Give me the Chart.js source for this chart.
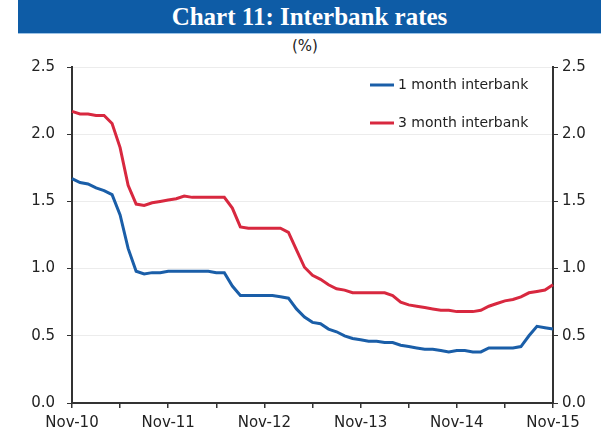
<!DOCTYPE html>
<html lang="en">
<head>
    <meta charset="UTF-8">
    <title>Chart 11: Interbank rates</title>
    <script src="https://cdn.jsdelivr.net/npm/chart.js"></script>
    <style>
        body { margin: 0; background: #fff; }
        #wrap { position: relative; width: 601px; height: 448px; }
        #band { position: absolute; left: 18px; top: 0; width: 583px; height: 33px; background: #0e5ca6;
                border-bottom: 1px solid #9cc3e6; color: #fff; font: bold 25px "Liberation Serif", "DejaVu Serif", serif;
                text-align: center; line-height: 33px; }
        #unit { position: absolute; left: 0; top: 37px; width: 610px; text-align: center;
                font: 15px "DejaVu Sans", sans-serif; color: #222; }
        canvas { position: absolute; left: 0; top: 0; }
    </style>
</head>
<body>
<div id="wrap">
    <div id="band">Chart 11: Interbank rates</div>
    <div id="unit">(%)</div>
    <canvas id="rates" width="601" height="448"></canvas>
</div>
<script>
    // tick labels shown on the x axis (one each November)
    const yearLabels = ['Nov-10', 'Nov-11', 'Nov-12', 'Nov-13', 'Nov-14', 'Nov-15'];
    const monthNames = ['Nov', 'Dec', 'Jan', 'Feb', 'Mar', 'Apr', 'May', 'Jun', 'Jul', 'Aug', 'Sep', 'Oct'];

    // monthly readings, Nov-10 .. Nov-15 (%)
    const oneMonth = [
        1.67, 1.64, 1.63, 1.60, 1.58, 1.55, 1.40, 1.15, 0.98, 0.96, 0.97, 0.97,
        0.98, 0.98, 0.98, 0.98, 0.98, 0.98, 0.97, 0.97, 0.87, 0.80, 0.80, 0.80,
        0.80, 0.80, 0.79, 0.78, 0.70, 0.64, 0.60, 0.59, 0.55, 0.53, 0.50, 0.48,
        0.47, 0.46, 0.46, 0.45, 0.45, 0.43, 0.42, 0.41, 0.40, 0.40, 0.39, 0.38,
        0.39, 0.39, 0.38, 0.38, 0.41, 0.41, 0.41, 0.41, 0.42, 0.50, 0.57, 0.56,
        0.55
    ];
    const threeMonth = [
        2.17, 2.15, 2.15, 2.14, 2.14, 2.08, 1.90, 1.62, 1.48, 1.47, 1.49, 1.50,
        1.51, 1.52, 1.54, 1.53, 1.53, 1.53, 1.53, 1.53, 1.45, 1.31, 1.30, 1.30,
        1.30, 1.30, 1.30, 1.27, 1.14, 1.01, 0.95, 0.92, 0.88, 0.85, 0.84, 0.82,
        0.82, 0.82, 0.82, 0.82, 0.80, 0.75, 0.73, 0.72, 0.71, 0.70, 0.69, 0.69,
        0.68, 0.68, 0.68, 0.69, 0.72, 0.74, 0.76, 0.77, 0.79, 0.82, 0.83, 0.84,
        0.88
    ];

    const labels = oneMonth.map((v, i) => monthNames[i % 12] + '-' + (10 + Math.floor((i + 10) / 12)));

    const BLUE = '#1a5ea8';
    const RED = '#d8283f';
    const AXIS = '#333';
    const FONT = { family: 'DejaVu Sans', size: 15 };

    // legend drawn inside the plot, top right
    const insideLegend = {
        id: 'insideLegend',
        afterDatasetsDraw(chart) {
            const ctx = chart.ctx;
            const rows = [{ y: 85 }, { y: 123 }];
            ctx.save();
            ctx.font = '14px "DejaVu Sans"';
            ctx.textBaseline = 'middle';
            chart.data.datasets.forEach((ds, i) => {
                const y = rows[i].y;
                ctx.strokeStyle = ds.borderColor;
                ctx.lineWidth = 3;
                ctx.beginPath();
                ctx.moveTo(370, y);
                ctx.lineTo(394, y);
                ctx.stroke();
                ctx.fillStyle = '#222';
                ctx.fillText(ds.label, 398, y);
            });
            ctx.restore();
        }
    };

    new Chart(document.getElementById('rates').getContext('2d'), {
        type: 'line',
        data: {
            labels: labels,
            datasets: [
                { label: '1 month interbank', data: oneMonth, borderColor: BLUE, borderWidth: 3, pointRadius: 0, tension: 0 },
                { label: '3 month interbank', data: threeMonth, borderColor: RED, borderWidth: 3, pointRadius: 0, tension: 0 }
            ]
        },
        options: {
            responsive: false,
            animation: false,
            layout: { padding: { top: 67, left: 0, right: 0, bottom: 0 } },
            plugins: { legend: { display: false }, tooltip: { enabled: false } },
            scales: {
                x: {
                    afterFit: s => { s.height = 45; },
                    grid: { drawOnChartArea: false, tickLength: 5, tickColor: AXIS, lineWidth: 1.5 },
                    border: { color: AXIS, width: 2 },
                    ticks: {
                        autoSkip: false, maxRotation: 0, padding: 6, color: '#222', font: FONT,
                        callback: (v, i) => i % 12 === 0 ? yearLabels[i / 12] : (i % 6 === 0 ? '' : null)
                    }
                },
                y: {
                    min: 0, max: 2.5,
                    afterFit: s => { s.width = 72; },
                    grid: { color: '#ececec', tickColor: AXIS, tickLength: 5 },
                    border: { color: AXIS, width: 2 },
                    ticks: { stepSize: 0.5, padding: 12, color: '#222', font: FONT, callback: v => v.toFixed(1) }
                },
                y2: {
                    position: 'right', min: 0, max: 2.5,
                    afterFit: s => { s.width = 48; },
                    grid: { drawOnChartArea: false, tickColor: AXIS, tickLength: 5 },
                    border: { color: AXIS, width: 2 },
                    ticks: { stepSize: 0.5, padding: 4, color: '#222', font: FONT, callback: v => v.toFixed(1) }
                }
            }
        },
        plugins: [insideLegend]
    });
</script>
</body>
</html>
